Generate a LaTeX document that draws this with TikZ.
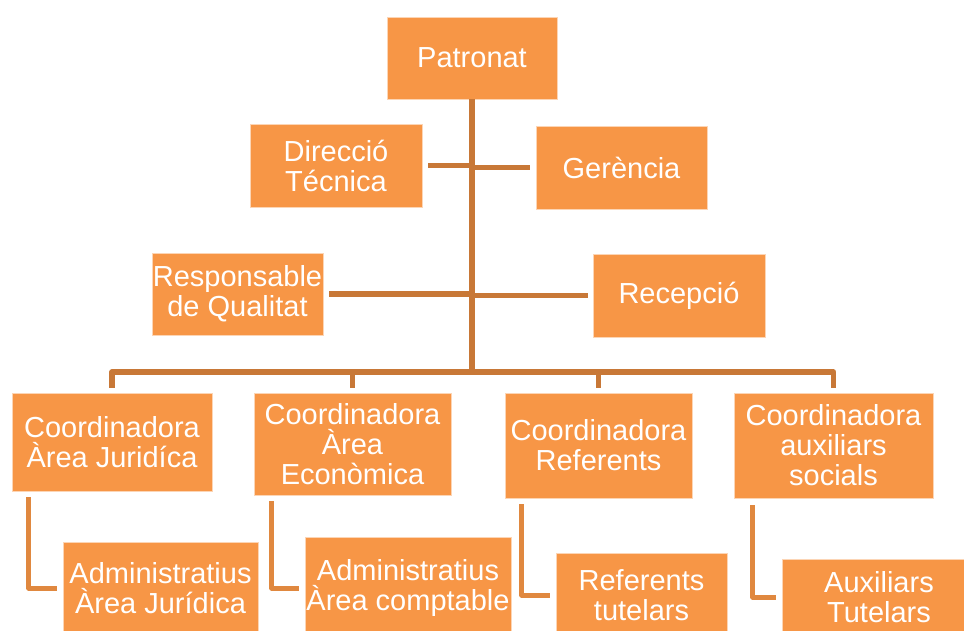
\documentclass[tikz,border=0pt]{standalone}
\usepackage{fontspec}
\setmainfont{Liberation Sans}
\definecolor{boxfill}{HTML}{F79646}
\definecolor{mainline}{HTML}{C87837}
\definecolor{elbowline}{HTML}{E0883F}
\begin{document}
\begin{tikzpicture}[x=1pt,y=-1pt,
  box/.style={fill=boxfill,draw=white!60!boxfill,line width=0.6pt,inner sep=0pt,align=center,text=white,
    font=\fontsize{29}{30}\selectfont},
  mainconn/.style={draw=mainline,line width=5.5pt,line join=round},
  elbowconn/.style={draw=elbowline,line width=5pt,line join=round}]
\clip (0,0) rectangle (964,630);
\fill[white] (0,0) rectangle (964,630);
% top level
\node[box,minimum width=170pt,minimum height=82pt] (pat) at (472,58) {Patronat};
\node[box,minimum width=172pt,minimum height=83pt] (dir) at (336,165.5) {Direcció\\Técnica};
\node[box,minimum width=171pt,minimum height=83pt] (ger) at (621.5,167.5) {Gerència};
\node[box,minimum width=171pt,minimum height=82pt] (resp) at (237.5,294) {Responsable\\de Qualitat};
\node[box,minimum width=172pt,minimum height=83pt] (rec) at (679,295.5) {Recepció};
% coordinators
\node[box,minimum width=200pt,minimum height=98pt] (cj) at (112,442) {Coordinadora\\Àrea Juridíca};
\node[box,minimum width=197pt,minimum height=102pt] (ce) at (352.5,444) {Coordinadora\\Àrea\\Econòmica};
\node[box,minimum width=187pt,minimum height=105pt] (cr) at (598.5,445.5) {Coordinadora\\Referents};
\node[box,minimum width=199pt,minimum height=105pt] (ca) at (833.5,445.5) {Coordinadora\\auxiliars\\socials};
% staff
\node[box,minimum width=195pt,minimum height=92pt] (aj) at (160.5,588) {Administratius\\Àrea Jurídica};
\node[box,minimum width=206pt,minimum height=102pt] (ac) at (408,588) {Administratius\\Àrea comptable};
\node[box,minimum width=171pt,minimum height=84pt] (rt) at (641.5,595) {Referents\\tutelars};
\node[box,minimum width=194pt,minimum height=76pt] (at) at (879,597) {Auxiliars\\Tutelars};
% trunk and bus
\coordinate (bus) at (472,372);
\draw[mainconn] (pat.south) -- (bus);
\draw[mainconn] ([xshift=6pt]dir.east) -- (dir.east -| pat.south);
\draw[mainconn] ([xshift=-6pt]ger.west) -- (ger.west -| pat.south);
\draw[mainconn] ([xshift=6pt]resp.east) -- (resp.east -| pat.south);
\draw[mainconn] ([xshift=-5pt]rec.west) -- (rec.west -| pat.south);
\draw[mainconn] ([yshift=5pt]cj.north) -- (cj.north |- bus) -- (ca.north |- bus) -- ([yshift=5pt]ca.north);
\draw[mainconn] (ce.north |- bus) -- ([yshift=5pt]ce.north);
\draw[mainconn] (cr.north |- bus) -- ([yshift=5pt]cr.north);
% elbows
\draw[elbowconn] ([shift={(17pt,-6pt)}]cj.south west) |- ([xshift=-6pt]aj.west);
\draw[elbowconn] ([shift={(18pt,-6pt)}]ce.south west) |- ([xshift=-6pt]ac.west);
\draw[elbowconn] ([shift={(17pt,-6pt)}]cr.south west) |- ([xshift=-6pt]rt.west);
\draw[elbowconn] ([shift={(19pt,-7pt)}]ca.south west) |- ([xshift=-6pt]at.west);
\end{tikzpicture}
\end{document}
